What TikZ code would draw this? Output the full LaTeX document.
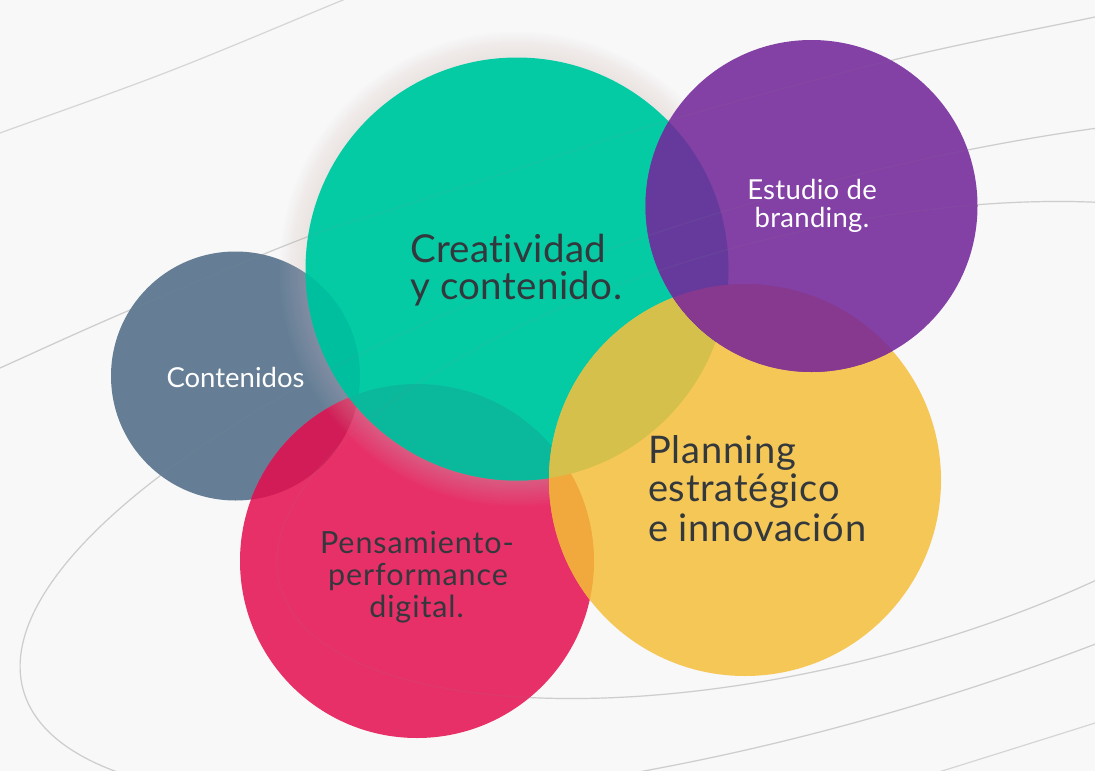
\documentclass[tikz,border=0pt]{standalone}
\usepackage{fontspec}
\setmainfont{Lato}[Ligatures=NoCommon]
\definecolor{bgc}{HTML}{F8F8F8}
\definecolor{orbitc}{HTML}{D5D5D5}
\definecolor{grayc}{HTML}{657E95}
\definecolor{tealc}{HTML}{05CBA5}
\definecolor{purplec}{HTML}{8340A5}
\definecolor{yellowc}{HTML}{F5C757}
\definecolor{redc}{HTML}{E73068}
\definecolor{grayred}{HTML}{D11C57}
\definecolor{grayteal}{HTML}{00BF9F}
\definecolor{redteal}{HTML}{0AB99B}
\definecolor{tealyellow}{HTML}{D4C04A}
\definecolor{redyellow}{HTML}{F1A83C}
\definecolor{purpleteal}{HTML}{653A9C}
\definecolor{purpleyellow}{HTML}{86398F}
\definecolor{shadowc}{HTML}{D2C8C4}
\definecolor{txtdark}{HTML}{33383D}
\begin{document}
\begin{tikzpicture}[x=1pt,y=-1pt,
  orbit/.style={draw=orbitc, line width=1.2pt},
  orbitover/.style={draw=black!45, opacity=0.10, line width=1.2pt},
  lbl/.style={inner sep=0pt, text=txtdark},
  lblw/.style={inner sep=0pt, text=white}]
\useasboundingbox (0,0) rectangle (1095,771);
\fill[bgc] (0,0) rectangle (1095,771);
\coordinate (cg) at (235.5,376);
\coordinate (ct) at (517,269);
\coordinate (cp) at (811.5,206);
\coordinate (cy) at (745,480);
\coordinate (cr) at (417,561);
\def\rg{124.5}\def\rt{211.5}\def\rp{166}\def\ry{196}\def\rr{177}
% orbits
\begin{scope}
\clip (0,0) rectangle (1095,771);
\draw[orbit, rotate around={16.3:(824,457)}] (824,457) ellipse[x radius=834, y radius=264];
\draw[orbit, rotate around={14:(815,450)}] (815,450) ellipse[x radius=552, y radius=216];
\draw[orbit] plot[smooth, tension=0.6] coordinates {(-20,377) (0,368) (130,310) (307,237) (400,207) (560,155) (670,120) (893,60) (1095,17) (1115,13)};
\draw[orbit] plot[smooth, tension=0.6] coordinates {(-10,137) (0,133) (170,71) (343,0) (360,-6)};
\draw[orbit] plot[smooth, tension=0.6] coordinates {(880,790) (942,771) (1095,723) (1115,716)};
\end{scope}
% gray and red
\fill[grayc] (cg) circle[radius=\rg];
\fill[redc] (cr) circle[radius=\rr];
\begin{scope}\clip (cg) circle[radius=\rg]; \fill[grayred] (cr) circle[radius=\rr];\end{scope}
% teal shadow
\foreach \k in {1,...,13}{\fill[shadowc, opacity=0.028] (ct) circle[radius={\rt+2*\k}];}
% teal
\fill[tealc] (ct) circle[radius=\rt];
\begin{scope}\clip (ct) circle[radius=\rt]; \fill[grayteal] (cg) circle[radius=\rg];\end{scope}
\begin{scope}\clip (ct) circle[radius=\rt]; \fill[redteal] (cr) circle[radius=\rr];\end{scope}
% yellow
\fill[yellowc] (cy) circle[radius=\ry];
\begin{scope}\clip (cy) circle[radius=\ry]; \fill[redyellow] (cr) circle[radius=\rr];\end{scope}
\begin{scope}\clip (cy) circle[radius=\ry]; \fill[tealyellow] (ct) circle[radius=\rt];\end{scope}
% purple
\fill[purplec] (cp) circle[radius=\rp];
\begin{scope}\clip (cp) circle[radius=\rp]; \fill[purpleteal] (ct) circle[radius=\rt];\end{scope}
\begin{scope}\clip (cp) circle[radius=\rp]; \fill[purpleyellow] (cy) circle[radius=\ry];\end{scope}
% faint orbits seen through the circles
\begin{scope}
\clip (0,0) rectangle (1095,771);
\draw[orbitover, rotate around={16.3:(824,457)}] (824,457) ellipse[x radius=834, y radius=264];
\draw[orbitover, rotate around={14:(815,450)}] (815,450) ellipse[x radius=552, y radius=216];
\draw[orbitover] plot[smooth, tension=0.6] coordinates {(-20,377) (0,368) (130,310) (307,237) (400,207) (560,155) (670,120) (893,60) (1095,17) (1115,13)};
\end{scope}
% labels
\node[lbl, anchor=base west, font=\fontsize{38.5}{40}\selectfont\addfontfeature{LetterSpace=1}] (t1a) at (410,262) {Creatividad};
\node[lbl, anchor=base west, font=\fontsize{38.5}{40}\selectfont\addfontfeature{LetterSpace=1}] (t1b) at (410,299) {y contenido.};
\node[lblw, anchor=base, font=\fontsize{27.5}{28}\selectfont\addfontfeature{LetterSpace=1}] (t2a) at (812,199) {Estudio de};
\node[lblw, anchor=base, font=\fontsize{27.5}{28}\selectfont\addfontfeature{LetterSpace=1}] (t2b) at (812,227) {branding.};
\node[lblw, anchor=base, font=\fontsize{27.5}{30}\selectfont] (t3) at (235.5,387) {Contenidos};
\node[lbl, anchor=base, font=\fontsize{30.5}{30}\selectfont\addfontfeature{LetterSpace=3}] (t4a) at (417,553) {Pensamiento-};
\node[lbl, anchor=base, font=\fontsize{30.5}{30}\selectfont\addfontfeature{LetterSpace=3}] (t4b) at (418,585) {performance};
\node[lbl, anchor=base, font=\fontsize{30.5}{30}\selectfont\addfontfeature{LetterSpace=3}] (t4c) at (416.5,617) {digital.};
\node[lbl, anchor=base west, font=\fontsize{38}{38}\selectfont\addfontfeature{LetterSpace=2}] (t5a) at (648,463) {Planning};
\node[lbl, anchor=base west, font=\fontsize{38}{38}\selectfont\addfontfeature{LetterSpace=2}] (t5b) at (648,501) {estratégico};
\node[lbl, anchor=base west, font=\fontsize{38}{38}\selectfont\addfontfeature{LetterSpace=2}] (t5c) at (648,541) {e innovación};
\end{tikzpicture}
\end{document}
